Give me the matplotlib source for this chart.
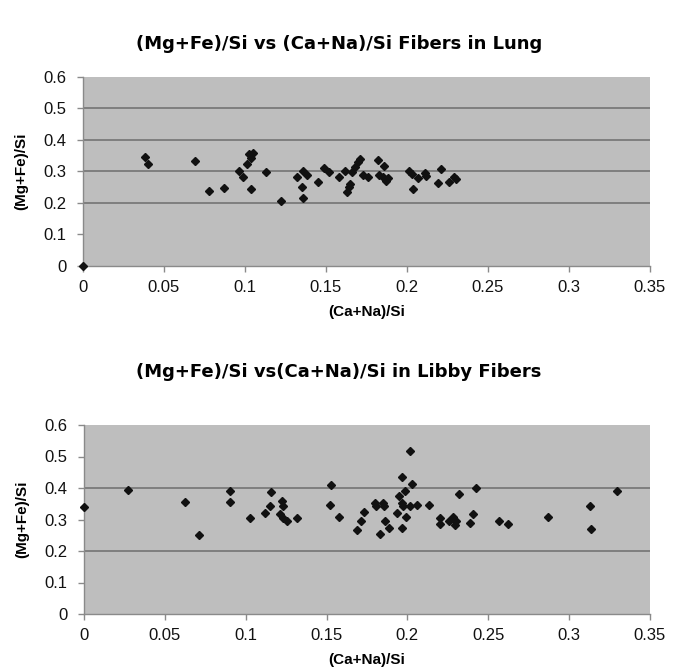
import matplotlib
matplotlib.use("Agg")
import matplotlib.pyplot as plt

plt.rcParams['font.family'] = ['Liberation Sans', 'DejaVu Sans']

# Lung fibers
lung_x = [0.0, 0.038, 0.040, 0.069, 0.0775, 0.087, 0.096, 0.0985, 0.101, 0.1025,
          0.104, 0.105, 0.104, 0.113, 0.122, 0.132, 0.136, 0.138, 0.135, 0.136,
          0.145, 0.149, 0.152, 0.158, 0.162, 0.163, 0.164, 0.165, 0.166, 0.168,
          0.170, 0.171, 0.173, 0.176, 0.182, 0.183, 0.186, 0.185, 0.187, 0.188,
          0.201, 0.203, 0.204, 0.207, 0.211, 0.2115, 0.219, 0.221, 0.226, 0.229,
          0.230]
lung_y = [0.0, 0.347, 0.324, 0.332, 0.239, 0.247, 0.303, 0.282, 0.324, 0.357,
          0.342, 0.360, 0.243, 0.297, 0.207, 0.282, 0.303, 0.289, 0.250, 0.215,
          0.267, 0.310, 0.297, 0.282, 0.303, 0.234, 0.250, 0.261, 0.297, 0.313,
          0.329, 0.339, 0.288, 0.282, 0.338, 0.288, 0.317, 0.282, 0.271, 0.280,
          0.303, 0.292, 0.243, 0.280, 0.295, 0.287, 0.263, 0.307, 0.266, 0.282,
          0.276]

# Libby fibers
libby_x = [0.0, 0.0274, 0.0627, 0.0714, 0.0903, 0.0903, 0.1028, 0.1121, 0.115, 0.1158,
           0.1227, 0.123, 0.121, 0.1232, 0.1256, 0.1317, 0.153, 0.152, 0.1575, 0.1689,
           0.1715, 0.1734, 0.180, 0.1808, 0.1848, 0.1856, 0.183, 0.186, 0.1888, 0.1936,
           0.1965, 0.1965, 0.195, 0.1965, 0.1986, 0.1992, 0.2013, 0.2031, 0.197, 0.2018,
           0.206, 0.2132, 0.220, 0.2204, 0.2257, 0.228, 0.2292, 0.230, 0.2318, 0.2387,
           0.2406, 0.2424, 0.2565, 0.2621, 0.2868, 0.3126, 0.3136, 0.3295]
libby_y = [0.340, 0.394, 0.356, 0.250, 0.389, 0.354, 0.305, 0.321, 0.343, 0.386,
           0.358, 0.342, 0.316, 0.304, 0.296, 0.304, 0.408, 0.347, 0.309, 0.266,
           0.296, 0.325, 0.351, 0.342, 0.351, 0.342, 0.254, 0.295, 0.274, 0.322,
           0.273, 0.434, 0.376, 0.351, 0.390, 0.309, 0.519, 0.412, 0.342, 0.342,
           0.347, 0.347, 0.306, 0.287, 0.295, 0.307, 0.284, 0.295, 0.380, 0.288,
           0.317, 0.401, 0.295, 0.287, 0.307, 0.342, 0.269, 0.390]

x_ticks = [0, 0.05, 0.1, 0.15, 0.2, 0.25, 0.3, 0.35]
x_ticklabels = ['0', '0.05', '0.1', '0.15', '0.2', '0.25', '0.3', '0.35']
y_ticks = [0, 0.1, 0.2, 0.3, 0.4, 0.5, 0.6]
y_ticklabels = ['0', '0.1', '0.2', '0.3', '0.4', '0.5', '0.6']
lung_grid = [0.2, 0.3, 0.4, 0.5]
libby_grid = [0.2, 0.4]

title_lung = '(Mg+Fe)/Si vs (Ca+Na)/Si Fibers in Lung'
title_libby = '(Mg+Fe)/Si vs(Ca+Na)/Si in Libby Fibers'
xlabel = '(Ca+Na)/Si'
ylabel = '(Mg+Fe)/Si'

W, H = 673, 671
fig = plt.figure(figsize=(W / 100, H / 100), dpi=100)
fig.patch.set_facecolor('white')

def make_axes(left_px, right_px, top_px, bottom_px):
    return fig.add_axes([left_px / W, 1 - bottom_px / H,
                         (right_px - left_px) / W, (bottom_px - top_px) / H])

ax1 = make_axes(83, 650, 77, 266)
ax2 = make_axes(84, 650, 425, 614)

bg = '#bebebe'
gridc = '#7a7a7a'
for ax, xs, ys, grid in [(ax1, lung_x, lung_y, lung_grid), (ax2, libby_x, libby_y, libby_grid)]:
    ax.set_facecolor(bg)
    for g in grid:
        ax.axhline(g, color=gridc, lw=1.3, zorder=1)
    ax.plot(xs, ys, linestyle='none', marker='D', ms=4.5, color='#111111', zorder=3,
            clip_on=False)
    ax.set_xlim(0, 0.35)
    ax.set_ylim(0, 0.6)
    ax.set_xticks(x_ticks)
    ax.set_xticklabels(x_ticklabels)
    ax.set_yticks(y_ticks)
    ax.set_yticklabels(y_ticklabels)
    for s in ['top', 'right']:
        ax.spines[s].set_visible(False)
    for s in ['left', 'bottom']:
        ax.spines[s].set_color('#8a8a8a')
        ax.spines[s].set_linewidth(1.0)
    ax.tick_params(axis='both', direction='out', length=4, width=1, color='#8a8a8a',
                   labelsize=12, labelcolor='#111111')
    ax.tick_params(axis='x', pad=6)
    ax.tick_params(axis='y', pad=8)
    ax.set_xlabel(xlabel, fontsize=11, fontweight='bold', labelpad=7)
    ax.set_ylabel(ylabel, fontsize=11, fontweight='bold', labelpad=11)

fig.text(339 / W, 1 - 44 / H, title_lung, ha='center', va='center',
         fontsize=13, fontweight='bold', family=['DejaVu Sans'])
fig.text(339 / W, 1 - 372 / H, title_libby, ha='center', va='center',
         fontsize=13, fontweight='bold', family=['DejaVu Sans'])

fig.savefig('out.png', dpi=100, facecolor='white')
